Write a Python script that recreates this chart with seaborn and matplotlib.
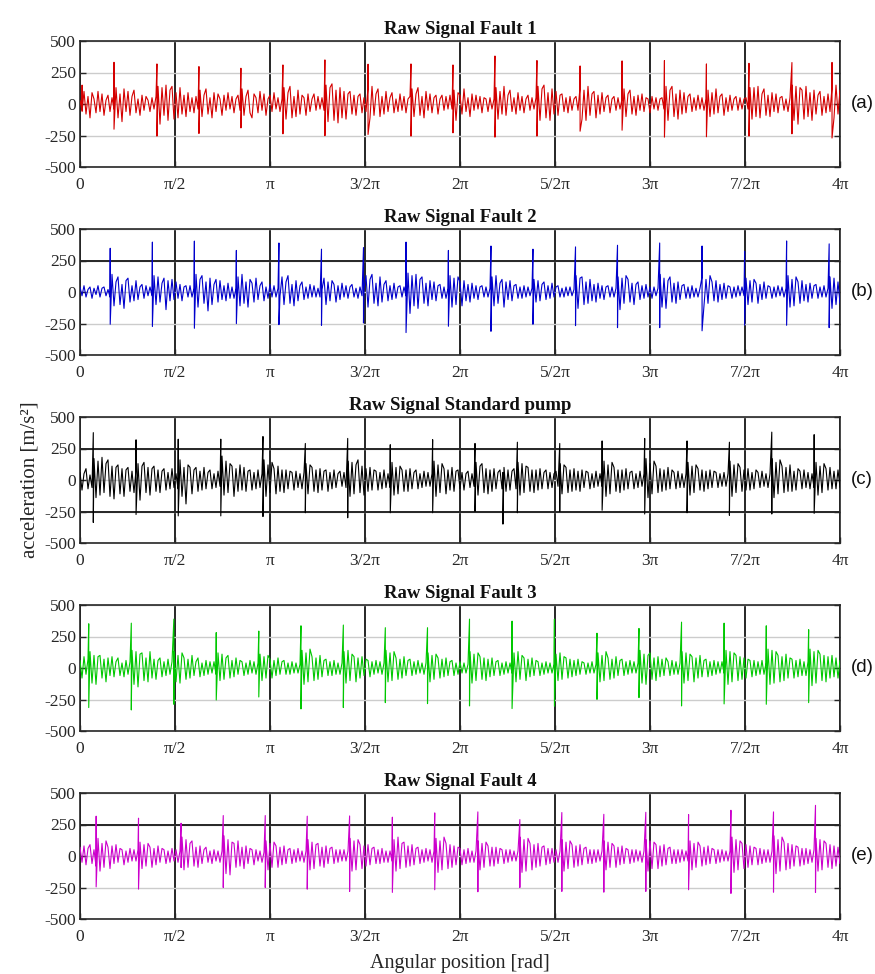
import numpy as np
import pandas as pd
import matplotlib
matplotlib.use("Agg")
import matplotlib.pyplot as plt
import seaborn as sns

# ---------------- data ----------------
titles = ["Raw Signal Fault 1", "Raw Signal Fault 2", "Raw Signal Standard pump",
          "Raw Signal Fault 3", "Raw Signal Fault 4"]
panel_tags = ["(a)", "(b)", "(c)", "(d)", "(e)"]
colors = ["#d40000", "#0000cc", "#000000", "#00c800", "#cc00cc"]
dark_levels = [[], [250], [250, -250], [], [250]]

xtick_labels = ["0", "π/2", "π", "3/2π", "2π", "5/2π", "3π", "7/2π", "4π"]
ytick_values = [-500, -250, 0, 250, 500]

# impact spikes: position (in units of pi), peak up, peak down
a_pos = [0.011, 0.179, 0.405, 0.626, 0.847, 1.068, 1.289, 1.516, 1.742, 1.963,
         2.184, 2.405, 2.632, 2.853, 3.076, 3.297, 3.521, 3.747, 3.958]
a_top = [150, 331, 318, 297, 284, 310, 350, 316, 318, 310, 381, 345, 302, 342, 345, 318, 323, 329, 330]
a_bot = [-60, -200, -255, -234, -190, -237, -252, -242, -255, -229, -263, -255, -216, -208, -263, -260, -255, -237, -270]

b_pos = [0.159, 0.381, 0.602, 0.823, 1.047, 1.271, 1.492, 1.716, 1.939, 2.163,
         2.384, 2.608, 2.829, 3.051, 3.274, 3.498, 3.719, 3.943]
b_top = [347, 396, 404, 330, 389, 340, 353, 396, 330, 365, 340, 358, 371, 389, 365, 323, 405, 382]
b_bot = [-256, -274, -288, -251, -259, -264, -246, -322, -272, -312, -256, -267, -283, -283, -308, -264, -264, -283]

c_pos = [0.070, 0.295, 0.517, 0.741, 0.963, 1.186, 1.409, 1.633, 1.856, 2.079,
         2.226, 2.302, 2.525, 2.748, 2.972, 3.195, 3.418, 3.641, 3.864]
c_top = [376, 319, 324, 324, 345, 290, 330, 280, 320, 290, 60, 300, 290, 310, 330, 310, 300, 380, 360]
c_bot = [-337, -274, -285, -285, -290, -260, -300, -260, -260, -250, -350, -260, -250, -240, -270, -260, -280, -270, -265]

d_pos = [0.046, 0.270, 0.494, 0.717, 0.941, 1.163, 1.386, 1.607, 1.829, 2.050,
         2.274, 2.497, 2.721, 2.942, 3.166, 3.390, 3.612, 3.835]
d_top = [351, 356, 388, 281, 293, 335, 341, 320, 320, 388, 372, 388, 276, 314, 364, 356, 335, 304]
d_bot = [-314, -333, -288, -254, -230, -325, -314, -275, -283, -301, -322, -304, -249, -235, -301, -285, -288, -275]

e_pos = [0.085, 0.308, 0.532, 0.754, 0.975, 1.196, 1.419, 1.644, 1.867, 2.094,
         2.315, 2.536, 2.757, 2.978, 3.203, 3.426, 3.650, 3.871]
e_top = [316, 300, 260, 321, 321, 316, 318, 308, 342, 350, 289, 345, 331, 347, 329, 363, 350, 402]
e_bot = [-245, -263, -92, -250, -250, -263, -281, -289, -268, -284, -250, -281, -287, -281, -268, -297, -287, -289]

# vibration between impacts, sampled evenly across 0..4pi (381 samples each)
a_noise = [
    30, -50,
    100, -80, 60, -110, 90, 40, -70, 100, -60, 80, -90, 30, 70, -60, 50, -40,
    130, -110, 80, -140, 120, -60, 100, -90, 60, 110, -70, 40, -90, 70, -50, 60, 30, -60, 50, -40, 60,
    140, -160, 130, -90, 150, -130, 110, 140, -120, 90, -110, 130, -80, 70, -100, 90, -60, 50, -70, 60, -40,
    110, -100, 70, 120, -80, 50, -110, 90, -60, 80, 40, -90, 70, -50, 90, -40, 60, -70, 40, 70, -50,
    120, -90, 60, 110, -70, -110, 80, 50, -70, 100, -50, 80, -90, 40, 70, -60, 90, -40, 50, -60, 40,
    130, -120, 90, 140, -110, 60, -100, 110, -80, 70, 50, -90, 80, -60, 40, 80, -50, 60, -40, 50, -50,
    150, -140, 130, 160, -130, 110, -150, 130, -110, 100, -120, 80, 100, -80, 70, -90, 60, 80, -70, 50, -60,
    130, -110, 140, -90, 80, 120, -100, 60, -80, 100, -60, 50, 90, -70, 40, -60, 80, -50, 60, -70, 40, 60,
    120, -100, 80, 130, -90, 60, -110, 100, -50, 80, -70, 50, 70, -80, 40, 70, -50, 60, -40, 70, -40,
    110, -130, 90, 70, -80, 120, -60, 50, -100, 80, -50, 70, -40, 60, -70, 50, 40, -60, 50, -40, 40,
    130, -120, 100, -80, 140, -90, 70, 110, -60, 50, -80, 90, -50, 60, -70, 40, 70, -50, 50, -40, 50,
    140, -130, 120, 150, -110, 90, -130, 120, -80, 100, -90, 70, 80, -60, 50, -70, 60, -50, 40, 60, -50,
    130, -120, 110, -130, 140, -90, 80, 100, -110, 70, -80, 90, -60, 50, 70, -70, 40, 60, -50, 50, -40, 40,
    120, -100, 80, 110, -80, 60, -90, 70, -50, 80, -60, 50, 40, -70, 60, -40, 50, -50, 40, 50, -40,
    140, -130, 110, 140, -100, 80, -120, 110, -80, 90, -70, 60, 80, -60, 50, -50, 70, -40, 50, -50, 40,
    110, -100, 90, -80, 120, -70, 60, 80, -90, 50, -60, 70, -50, 40, 60, -50, 50, -40, 40, 50, -40,
    130, -120, 130, -100, 140, -110, 80, 120, -90, 70, -100, 90, -60, 80, -70, 50, 60, -50, 40, -60, 50,
    150, -130, 140, -160, 130, 110, -120, 140, -100, 90, -130, 110, -80, 70, 100, -90, 60, -70, 80, -60,
    130, -110, 150, -80, 110]
b_noise = [
    40, -30, 50, -40, 20, 40, -50, 30, -20, 50, -40, 30, 40, -30, 20, -40,
    140, -110, 80, 120, -100, 60, -130, 90, 110, -80, 50, -70, 90, -60, 40, 60, -50, 50, -30, 40, -30,
    130, -100, 120, -80, 70, 110, -140, 90, -70, 100, -60, 80, -50, 60, -70, 40, 50, -40, 50, -40, 30,
    140, -120, 100, 130, -90, 80, -150, 110, -100, 60, 100, -80, 90, -60, 50, -70, 70, -50, 40, -50, 30,
    120, -110, 140, -90, 80, -120, 100, 70, -80, 110, -60, 50, 80, -70, 40, -50, 60, -40, 50, -40, 30, -30,
    120, -100, 80, 130, -90, 60, -110, 90, -70, 50, 80, -60, 40, -50, 60, -40, 50, -40, 30, -40, 20,
    110, -100, 80, -70, 90, 60, -80, 50, -60, 70, -40, 50, -50, 40, 60, -40, 30, -50, 40, -30, 30,
    130, -120, 100, 140, -90, 70, -110, 120, -80, 60, 90, -70, 50, -60, 70, -50, 40, 50, -40, 40, -30,
    150, -170, 130, -110, 140, -130, 100, 120, -90, 70, -110, 90, -60, 80, -70, 50, 60, -50, 40, -50, 30,
    130, -120, 110, -100, 120, 80, -110, 90, -70, 60, -80, 70, -50, 50, -60, 40, 50, -40, 40, -40, 30,
    120, -110, 130, -90, 70, 100, -120, 80, -60, 90, -70, 50, 60, -50, 40, -50, 50, -40, 40, -30, 30,
    100, -80, 90, -70, 60, 80, -60, 50, -50, 70, -40, 40, 50, -40, 30, -40, 40, -30, 40, -30, 20,
    130, -130, 110, 120, -100, 80, -90, 100, -70, 60, -80, 70, -50, 50, -60, 40, 50, -40, 40, -40, 30,
    120, -140, 110, -90, 130, 100, -80, 70, -100, 60, 80, -60, 50, -50, 60, -40, 40, -50, 40, -30, 30,
    140, -120, 110, -130, 90, 120, -80, 70, -90, 80, -60, 50, 60, -50, 40, -50, 50, -40, 30, -40, 30,
    120, -110, 100, -90, 130, 80, -70, 90, -80, 60, -60, 70, -50, 50, 40, -50, 40, -40, 50, -30, 40, -30,
    110, -100, 90, -80, 100, 70, -90, 60, -60, 80, -50, 50, 40, -50, 40, -40, 50, -30, 40, -40, 30,
    130, -120, 100, -110, 120, 80, -90, 90, -70, 60, -80, 70, -50, 50, 60, -50, 40, -40, 50, -40, 30,
    120, -130, 110, -100, 80, -90]
c_noise = [
    60, -80, 50, 90, -70, 40, -60,
    170, -140, 150, -120, 180, -100, 130, 160, -130, 110, -150, 100, 120, -110, 90, -130, 80, 100, -90, 70, -100, 80,
    130, -160, 110, 140, -100, 100, -120, 90, 110, -90, 80, -100, 70, 90, -80, 60, -70, 90, -60, 50, -70,
    160, -130, 100, -190, 120, 100, -110, 80, 100, -90, 70, -80, 100, -70, 60, 80, -70, 50, -60, 70, -50,
    190, -120, 150, -100, 130, 110, -130, 90, -90, 120, -80, 100, -90, 70, 80, -80, 60, -70, 80, -60, 50,
    160, -130, 120, -100, 140, 90, -110, 110, -90, 80, -100, 80, -70, 70, 60, -80, 70, -60, 50, -70, 60,
    130, -110, 120, 100, -90, 80, -100, 90, -80, 70, 80, -90, 60, -70, 80, -60, 50, 70, -50, 60, -60,
    150, -130, 140, -110, 120, 160, -100, 110, -120, 90, -90, 100, -80, 80, 70, -80, 60, -70, 80, -60, 50, -60,
    140, -120, 100, -110, 110, 80, -90, 80, -90, 90, -70, 60, 80, -70, 50, -60, 70, -50, 60, -50, 50,
    150, -130, 120, -100, 130, 90, -110, 80, -80, 100, -90, 70, 80, -70, 60, -80, 50, 70, -60, 50, -50,
    140, -120, 110, 130, -100, 90, -110, 80, -90, 90, -70, 60, 80, -70,
    100, -90, 80, -80, 70, 90, -70,
    140, -120, 130, -100, 110, 100, -90, 80, -100, 80, -80, 90, -70, 60, 80, -70, 60, -60, 50, 70, -50,
    130, -110, 120, 100, -100, 80, -90, 90, -80, 70, -90, 80, -60, 70, 60, -70, 50, -60, 70, -50, 50, -50,
    150, -130, 120, -110, 140, 100, -90, 80, -100, 80, -80, 90, -70, 60, 70, -70, 50, -60, 70, -50, 50,
    170, -140, 130, -110, 150, 110, -100, 90, -90, 80, -80, 100, -70, 80, 60, -70, 70, -60, 50, -60, 50,
    140, -120, 110, -100, 120, 90, -80, 80, -90, 70, -70, 80, -60, 70, 60, -60, 50, -50, 60, -50, 50,
    150, -130, 120, -100, 130, 100, -90, 80, -80, 90, -80, 60, -70, 80, 60, -60, 70, -50, 50, -60, 50,
    170, -140, 140, -110, 160, 110, -100, 100, -90, 120, -90, 70, -80, 90, 70, -70, 80, -60, 60, -70, 50, -60,
    140, -120, 110, -100, 130, 90, -80, 100, -70, 70, -70, 80, -60]
d_noise = [
    60, -80, 90, -50, 70,
    130, -120, 100, -130, 90, 100, -80, 70, -110, 80, -60, 90, -70, 50, 80, -60, 40, -70, 60, -50, 50,
    140, -130, 130, -150, 110, 120, -100, 80, -110, 130, -80, 70, -90, 60, 80, -70, 50, -60, 70, -50, 50,
    130, -110, 100, -120, 120, 80, -90, 70, -80, 100, -60, 50, 80, -70, 40, -60, 60, -50, 50, -40, 50, -50,
    120, -100, 110, -90, 80, 100, -80, 60, -70, 80, -50, 60, 50, -60, 40, -50, 60, -40, 50, -50, 40,
    110, -100, 90, -80, 100, 70, -80, 60, -60, 80, -50, 50, 60, -50, 40, -50, 50, -40, 40, -40, 30,
    140, -130, 120, -110, 150, 90, -100, 80, -90, 100, -70, 60, 70, -60, 50, -60, 60, -50, 40, -50, 40,
    130, -120, 140, -100, 110, 90, -110, 80, -80, 90, -60, 70, 60, -70, 50, -50, 60, -40, 50, -50, 40,
    140, -110, 120, -100, 130, 80, -90, 70, -80, 90, -60, 60, 70, -60, 50, -50, 60, -40, 40, -50, 40,
    120, -110, 100, -90, 110, 80, -80, 70, -70, 80, -60, 50, 60, -60, 40, -50, 50, -40, 40, -40, 30,
    130, -120, 110, -100, 120, 90, -90, 80, -100, 70, -70, 80, -60, 50, 60, -60, 40, -50, 50, -40, 40, -40,
    120, -110, 130, -90, 100, 80, -100, 70, -70, 80, -60, 60, 50, -60, 40, -50, 50, -40, 40, -40, 30,
    110, -100, 120, -90, 90, 80, -80, 70, -70, 60, -60, 70, -50, 50, 40, -50, 40, -40, 50, -40, 30,
    120, -110, 100, -100, 130, 80, -90, 70, -80, 90, -60, 60, 70, -60, 50, -50, 60, -40, 50, -40, 40,
    140, -120, 110, -130, 100, 120, -90, 80, -100, 90, -70, 70, -60, 80, 50, -60, 60, -50, 50, -50, 40,
    130, -120, 120, -100, 110, 90, -110, 80, -80, 100, -70, 60, 70, -70, 50, -60, 60, -50, 50, -40, 50, -40,
    140, -130, 130, -110, 120, 100, -100, 90, -90, 80, -80, 70, 60, -70, 60, -60, 50, -50, 60, -50, 40,
    150, -130, 140, -120, 130, 100, -110, 90, -100, 110, -80, 80, 70, -80, 60, -70, 70, -60, 50, -60, 50,
    150, -140, 130, -120, 140, 110, -100, 100, -110, 90, -80, 100, -70, 80, -80, 60]
e_noise = [
    70, -50, 80, -70, 60, 90, -60, 50, -80,
    140, -120, 100, -90, 120, 70, -100, 80, -60, 90, -50, 60, 50, -70, 40, -50, 60, -40, 50, -40, 50,
    110, -100, 90, -80, 100, 70, -90, 60, -70, 80, -50, 60, 50, -60, 40, -50, 60, -40, 50, -50, 40,
    150, -110, 130, -90, 100, 120, -80, 70, -90, 80, -60, 50, 70, -50, 40, -60, 50, -40, 40, -50, 40,
    160, -140, 130, -150, 110, 100, -90, 120, -80, 70, -100, 80, -60, 60, 50, -70, 50, -40, 40, -50, 30,
    120, -110, 100, -90, 110, 80, -90, 70, -70, 80, -60, 50, 60, -60, 50, -50, 60, -40, 40, -50, 40,
    130, -110, 110, -100, 90, 100, -80, 70, -90, 80, -60, 60, 70, -60, 50, -50, 50, -40, 50, -40, 40,
    140, -120, 120, -110, 130, 90, -100, 80, -80, 90, -70, 60, 70, -60, 50, -60, 60, -50, 40, -50, 40, -40,
    130, -120, 150, -100, 100, 110, -90, 80, -80, 90, -70, 60, 70, -60, 50, -50, 60, -40, 50, -50, 40,
    140, -130, 120, -110, 150, 100, -100, 90, -90, 80, -70, 70, 60, -70, 50, -60, 60, -50, 40, -50, 40,
    120, -110, 100, -90, 110, 80, -80, 70, -80, 70, -60, 60, 50, -60, 50, -50, 50, -40, 40, -40, 40,
    150, -130, 130, -120, 140, 100, -110, 90, -90, 100, -80, 70, 80, -70, 60, -60, 60, -50, 50, -50, 40,
    130, -120, 110, -100, 120, 90, -90, 80, -80, 90, -70, 60, 70, -60, 50, -60, 50, -50, 50, -40, 40,
    120, -110, 110, -90, 100, 80, -90, 70, -70, 80, -60, 60, 50, -60, 50, -50, 50, -40, 40, -50, 40,
    130, -120, 120, -100, 110, 90, -100, 80, -80, 90, -70, 60, 70, -60, 50, -60, 50, -50, 50, -40, 40, -40,
    120, -110, 100, -90, 110, 80, -80, 70, -70, 80, -60, 60, 50, -60, 50, -50, 50, -40, 40, -40, 40,
    150, -130, 130, -110, 120, 100, -100, 90, -90, 80, -70, 70, 60, -70, 60, -60, 50, -50, 50, -50, 40,
    160, -140, 130, -120, 150, 110, -110, 100, -100, 90, -80, 80, 70, -80, 60, -70, 60, -60, 50, -50, 50,
    140, -120, 130, -110, 120, 100, -90, 90, -100, 80, -80, 70, -60]

noises = [a_noise, b_noise, c_noise, d_noise, e_noise]
spike_pos = [a_pos, b_pos, c_pos, d_pos, e_pos]
spike_top = [a_top, b_top, c_top, d_top, e_top]
spike_bot = [a_bot, b_bot, c_bot, d_bot, e_bot]


def build_frame(noise, pos, top, bot):
    xn = np.linspace(0, 4 * np.pi, len(noise))
    xs = np.asarray(pos) * np.pi
    x = np.concatenate([xn, xs, xs])
    y = np.concatenate([noise, top, bot])
    order = np.concatenate([np.zeros(len(xn)), np.ones(len(xs)), 2 * np.ones(len(xs))])
    idx = np.lexsort((order, x))
    return pd.DataFrame({"angle": x[idx], "acc": y[idx]})


# ---------------- styling ----------------
sns.set_theme(style="white")
plt.rcParams["font.family"] = ["Liberation Serif", "DejaVu Serif"]
plt.rcParams["axes.edgecolor"] = "#262626"

W, H = 875, 974
fig = plt.figure(figsize=(W / 100, H / 100), dpi=100)

ax_left, ax_right = 80, 840
tops = [41, 229, 417, 605, 793]
ax_h = 126
xticks = np.arange(0, 9) * np.pi / 2

axes = []
for k in range(5):
    ax = fig.add_axes([ax_left / W, 1 - (tops[k] + ax_h) / H,
                       (ax_right - ax_left) / W, ax_h / H])
    axes.append(ax)
    df = build_frame(noises[k], spike_pos[k], spike_top[k], spike_bot[k])
    sns.lineplot(data=df, x="angle", y="acc", ax=ax, color=colors[k],
                 linewidth=0.8, sort=False, estimator=None, zorder=3)
    ax.set_xlim(0, 4 * np.pi)
    ax.set_ylim(-500, 500)
    ax.set_xticks(xticks)
    ax.set_xticklabels(xtick_labels)
    ax.set_yticks(ytick_values)
    ax.set_yticklabels([str(v) for v in ytick_values])
    ax.set_xlabel("")
    ax.set_ylabel("")
    ax.grid(axis="x", color="#262626", linewidth=1.4, zorder=1)
    ax.grid(axis="y", color="#cccccc", linewidth=1.0, zorder=1)
    for lv in dark_levels[k]:
        ax.axhline(lv, color="#262626", linewidth=1.4, zorder=2)
    ax.set_axisbelow(True)
    ax.tick_params(direction="in", length=4, width=1, left=True, right=True,
                   bottom=True, top=False, labelsize=12.5, colors="#262626",
                   pad=7)
    ax.tick_params(axis="y", pad=3)
    for sp in ax.spines.values():
        sp.set_linewidth(1.2)
        sp.set_color("#262626")
    ax.set_title(titles[k], fontsize=13.5, fontweight="bold", pad=5,
                 color="#111111")
    ax.text(1.0145, 0.5, panel_tags[k], transform=ax.transAxes, ha="left",
            va="center", fontsize=13.5, family=["Liberation Sans", "DejaVu Sans"],
            color="#111111")

axes[2].set_ylabel("acceleration [m/s²]", fontsize=15, labelpad=3, color="#262626")
axes[4].set_xlabel("Angular position [rad]", fontsize=14.5, labelpad=7, color="#262626")

fig.savefig("out.png", dpi=100, facecolor="white")
